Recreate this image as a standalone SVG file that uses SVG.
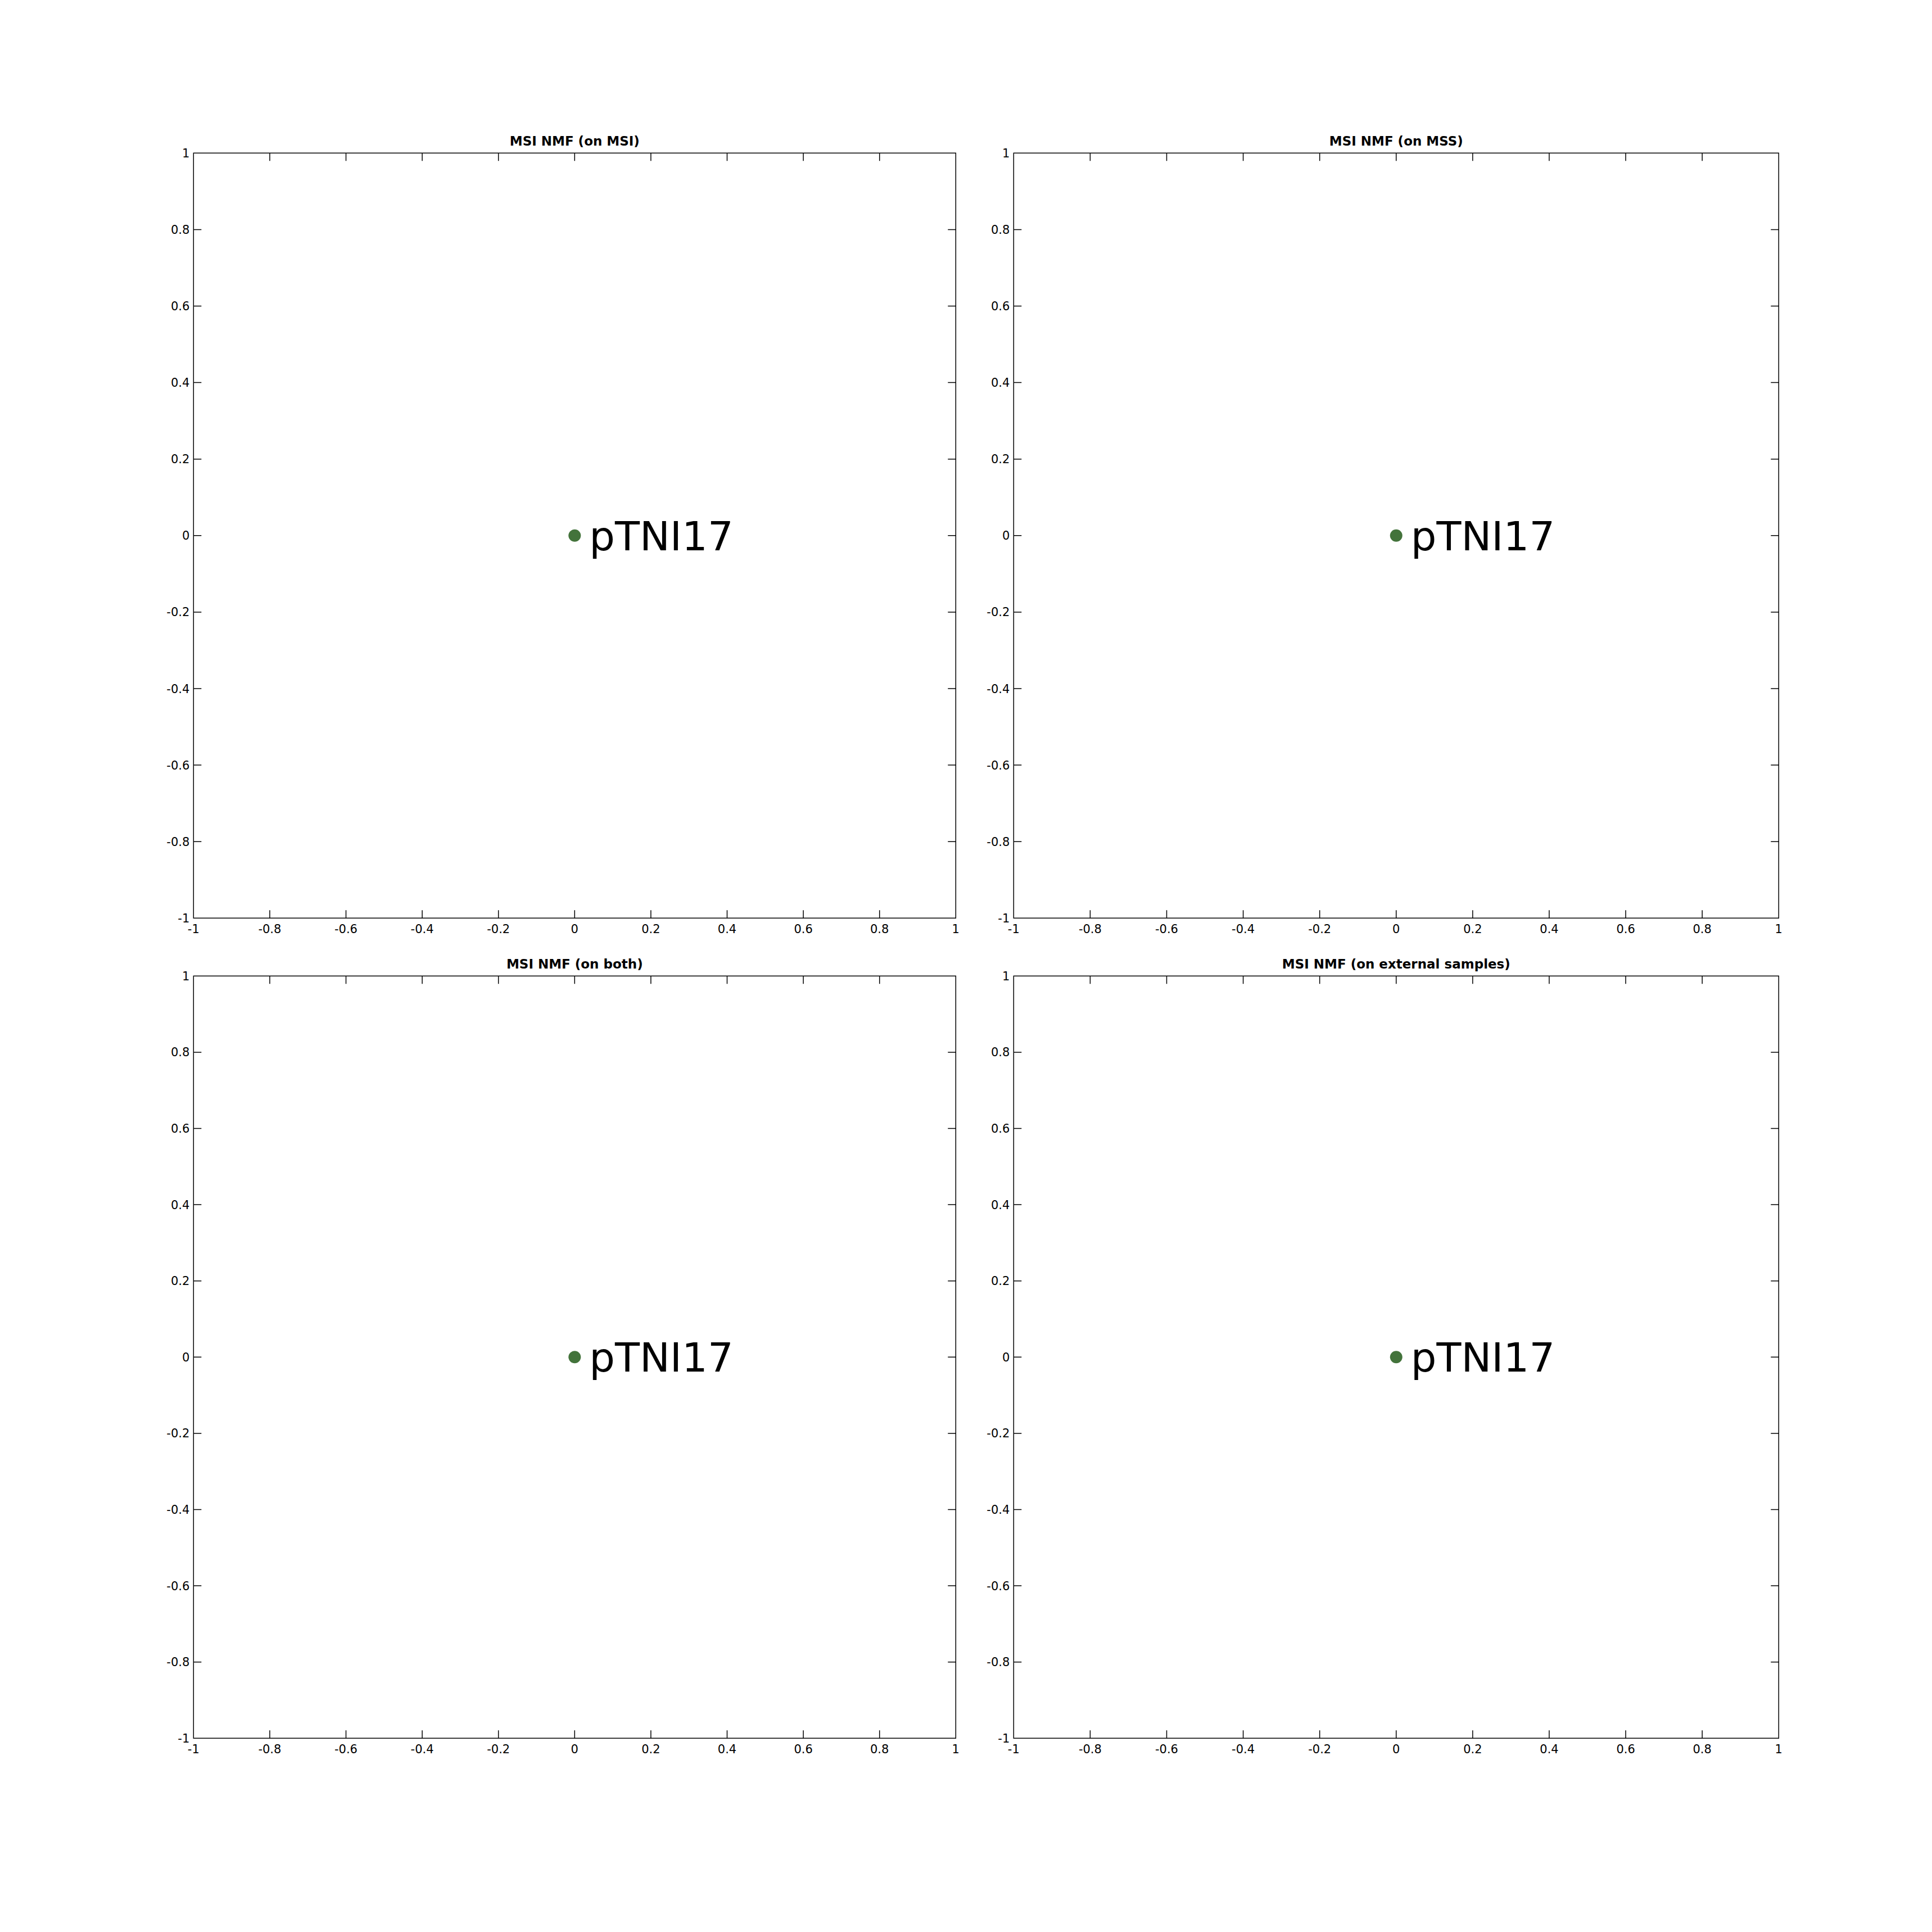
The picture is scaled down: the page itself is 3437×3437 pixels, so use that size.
<svg xmlns="http://www.w3.org/2000/svg" width="3437" height="3437" viewBox="0 0 3437 3437">
<style>
.frame{fill:none;stroke:#000;stroke-width:1.5}
.tick{fill:none;stroke:#000;stroke-width:1.5}
.tk{font-family:"DejaVu Sans","Liberation Sans",sans-serif;font-size:21px;fill:#000}
.ya{text-anchor:end}
.xa{text-anchor:middle}
.title{font-family:"DejaVu Sans","Liberation Sans",sans-serif;font-size:23px;font-weight:bold;fill:#000;text-anchor:middle}
.pt{fill:#43733b}
.lbl{font-family:"DejaVu Sans","Liberation Sans",sans-serif;font-size:72px;fill:#000}
</style>
<rect width="3437" height="3437" fill="#fff"/>

<g id="panel-tl">
<rect class="frame" x="344.3" y="272.3" width="1356" height="1361"/>
<path class="tick" d="M479.9 272.3v14M615.5 272.3v14M751.1 272.3v14M886.7 272.3v14M1022.3 272.3v14M1157.9 272.3v14M1293.5 272.3v14M1429.1 272.3v14M1564.7 272.3v14
M479.9 1633.3v-14M615.5 1633.3v-14M751.1 1633.3v-14M886.7 1633.3v-14M1022.3 1633.3v-14M1157.9 1633.3v-14M1293.5 1633.3v-14M1429.1 1633.3v-14M1564.7 1633.3v-14
M344.3 408.4h14M344.3 544.5h14M344.3 680.6h14M344.3 816.7h14M344.3 952.8h14M344.3 1088.9h14M344.3 1225h14M344.3 1361.1h14M344.3 1497.2h14
M1700.3 408.4h-14M1700.3 544.5h-14M1700.3 680.6h-14M1700.3 816.7h-14M1700.3 952.8h-14M1700.3 1088.9h-14M1700.3 1225h-14M1700.3 1361.1h-14M1700.3 1497.2h-14"/>
<text class="title" x="1022.3" y="258.8">MSI NMF (on MSI)</text>
<g class="tk ya">
<text x="337.3" y="279.8">1</text><text x="337.3" y="415.9">0.8</text><text x="337.3" y="552">0.6</text><text x="337.3" y="688.1">0.4</text><text x="337.3" y="824.2">0.2</text><text x="337.3" y="960.3">0</text><text x="337.3" y="1096.4">-0.2</text><text x="337.3" y="1232.5">-0.4</text><text x="337.3" y="1368.6">-0.6</text><text x="337.3" y="1504.7">-0.8</text><text x="337.3" y="1640.8">-1</text>
</g>
<g class="tk xa">
<text x="344.3" y="1660.3">-1</text><text x="479.9" y="1660.3">-0.8</text><text x="615.5" y="1660.3">-0.6</text><text x="751.1" y="1660.3">-0.4</text><text x="886.7" y="1660.3">-0.2</text><text x="1022.3" y="1660.3">0</text><text x="1157.9" y="1660.3">0.2</text><text x="1293.5" y="1660.3">0.4</text><text x="1429.1" y="1660.3">0.6</text><text x="1564.7" y="1660.3">0.8</text><text x="1700.3" y="1660.3">1</text>
</g>
<circle class="pt" cx="1022.3" cy="952.8" r="11"/>
<text class="lbl" x="1048.3" y="978.8">pTNI17</text>
</g>

<g id="panel-tr">
<rect class="frame" x="1803.3" y="272.3" width="1361" height="1361"/>
<path class="tick" d="M1939.4 272.3v14M2075.5 272.3v14M2211.6 272.3v14M2347.7 272.3v14M2483.8 272.3v14M2619.9 272.3v14M2756 272.3v14M2892.1 272.3v14M3028.2 272.3v14
M1939.4 1633.3v-14M2075.5 1633.3v-14M2211.6 1633.3v-14M2347.7 1633.3v-14M2483.8 1633.3v-14M2619.9 1633.3v-14M2756 1633.3v-14M2892.1 1633.3v-14M3028.2 1633.3v-14
M1803.3 408.4h14M1803.3 544.5h14M1803.3 680.6h14M1803.3 816.7h14M1803.3 952.8h14M1803.3 1088.9h14M1803.3 1225h14M1803.3 1361.1h14M1803.3 1497.2h14
M3164.3 408.4h-14M3164.3 544.5h-14M3164.3 680.6h-14M3164.3 816.7h-14M3164.3 952.8h-14M3164.3 1088.9h-14M3164.3 1225h-14M3164.3 1361.1h-14M3164.3 1497.2h-14"/>
<text class="title" x="2483.8" y="258.8">MSI NMF (on MSS)</text>
<g class="tk ya">
<text x="1796.3" y="279.8">1</text><text x="1796.3" y="415.9">0.8</text><text x="1796.3" y="552">0.6</text><text x="1796.3" y="688.1">0.4</text><text x="1796.3" y="824.2">0.2</text><text x="1796.3" y="960.3">0</text><text x="1796.3" y="1096.4">-0.2</text><text x="1796.3" y="1232.5">-0.4</text><text x="1796.3" y="1368.6">-0.6</text><text x="1796.3" y="1504.7">-0.8</text><text x="1796.3" y="1640.8">-1</text>
</g>
<g class="tk xa">
<text x="1803.3" y="1660.3">-1</text><text x="1939.4" y="1660.3">-0.8</text><text x="2075.5" y="1660.3">-0.6</text><text x="2211.6" y="1660.3">-0.4</text><text x="2347.7" y="1660.3">-0.2</text><text x="2483.8" y="1660.3">0</text><text x="2619.9" y="1660.3">0.2</text><text x="2756" y="1660.3">0.4</text><text x="2892.1" y="1660.3">0.6</text><text x="3028.2" y="1660.3">0.8</text><text x="3164.3" y="1660.3">1</text>
</g>
<circle class="pt" cx="2483.8" cy="952.8" r="11"/>
<text class="lbl" x="2509.8" y="978.8">pTNI17</text>
</g>

<g id="panel-bl">
<rect class="frame" x="344.3" y="1736.3" width="1356" height="1356"/>
<path class="tick" d="M479.9 1736.3v14M615.5 1736.3v14M751.1 1736.3v14M886.7 1736.3v14M1022.3 1736.3v14M1157.9 1736.3v14M1293.5 1736.3v14M1429.1 1736.3v14M1564.7 1736.3v14
M479.9 3092.3v-14M615.5 3092.3v-14M751.1 3092.3v-14M886.7 3092.3v-14M1022.3 3092.3v-14M1157.9 3092.3v-14M1293.5 3092.3v-14M1429.1 3092.3v-14M1564.7 3092.3v-14
M344.3 1871.9h14M344.3 2007.5h14M344.3 2143.1h14M344.3 2278.7h14M344.3 2414.3h14M344.3 2549.9h14M344.3 2685.5h14M344.3 2821.1h14M344.3 2956.7h14
M1700.3 1871.9h-14M1700.3 2007.5h-14M1700.3 2143.1h-14M1700.3 2278.7h-14M1700.3 2414.3h-14M1700.3 2549.9h-14M1700.3 2685.5h-14M1700.3 2821.1h-14M1700.3 2956.7h-14"/>
<text class="title" x="1022.3" y="1722.8">MSI NMF (on both)</text>
<g class="tk ya">
<text x="337.3" y="1743.8">1</text><text x="337.3" y="1879.4">0.8</text><text x="337.3" y="2015">0.6</text><text x="337.3" y="2150.6">0.4</text><text x="337.3" y="2286.2">0.2</text><text x="337.3" y="2421.8">0</text><text x="337.3" y="2557.4">-0.2</text><text x="337.3" y="2693">-0.4</text><text x="337.3" y="2828.6">-0.6</text><text x="337.3" y="2964.2">-0.8</text><text x="337.3" y="3099.8">-1</text>
</g>
<g class="tk xa">
<text x="344.3" y="3119.3">-1</text><text x="479.9" y="3119.3">-0.8</text><text x="615.5" y="3119.3">-0.6</text><text x="751.1" y="3119.3">-0.4</text><text x="886.7" y="3119.3">-0.2</text><text x="1022.3" y="3119.3">0</text><text x="1157.9" y="3119.3">0.2</text><text x="1293.5" y="3119.3">0.4</text><text x="1429.1" y="3119.3">0.6</text><text x="1564.7" y="3119.3">0.8</text><text x="1700.3" y="3119.3">1</text>
</g>
<circle class="pt" cx="1022.3" cy="2414.3" r="11"/>
<text class="lbl" x="1048.3" y="2440.3">pTNI17</text>
</g>

<g id="panel-br">
<rect class="frame" x="1803.3" y="1736.3" width="1361" height="1356"/>
<path class="tick" d="M1939.4 1736.3v14M2075.5 1736.3v14M2211.6 1736.3v14M2347.7 1736.3v14M2483.8 1736.3v14M2619.9 1736.3v14M2756 1736.3v14M2892.1 1736.3v14M3028.2 1736.3v14
M1939.4 3092.3v-14M2075.5 3092.3v-14M2211.6 3092.3v-14M2347.7 3092.3v-14M2483.8 3092.3v-14M2619.9 3092.3v-14M2756 3092.3v-14M2892.1 3092.3v-14M3028.2 3092.3v-14
M1803.3 1871.9h14M1803.3 2007.5h14M1803.3 2143.1h14M1803.3 2278.7h14M1803.3 2414.3h14M1803.3 2549.9h14M1803.3 2685.5h14M1803.3 2821.1h14M1803.3 2956.7h14
M3164.3 1871.9h-14M3164.3 2007.5h-14M3164.3 2143.1h-14M3164.3 2278.7h-14M3164.3 2414.3h-14M3164.3 2549.9h-14M3164.3 2685.5h-14M3164.3 2821.1h-14M3164.3 2956.7h-14"/>
<text class="title" x="2483.8" y="1722.8">MSI NMF (on external samples)</text>
<g class="tk ya">
<text x="1796.3" y="1743.8">1</text><text x="1796.3" y="1879.4">0.8</text><text x="1796.3" y="2015">0.6</text><text x="1796.3" y="2150.6">0.4</text><text x="1796.3" y="2286.2">0.2</text><text x="1796.3" y="2421.8">0</text><text x="1796.3" y="2557.4">-0.2</text><text x="1796.3" y="2693">-0.4</text><text x="1796.3" y="2828.6">-0.6</text><text x="1796.3" y="2964.2">-0.8</text><text x="1796.3" y="3099.8">-1</text>
</g>
<g class="tk xa">
<text x="1803.3" y="3119.3">-1</text><text x="1939.4" y="3119.3">-0.8</text><text x="2075.5" y="3119.3">-0.6</text><text x="2211.6" y="3119.3">-0.4</text><text x="2347.7" y="3119.3">-0.2</text><text x="2483.8" y="3119.3">0</text><text x="2619.9" y="3119.3">0.2</text><text x="2756" y="3119.3">0.4</text><text x="2892.1" y="3119.3">0.6</text><text x="3028.2" y="3119.3">0.8</text><text x="3164.3" y="3119.3">1</text>
</g>
<circle class="pt" cx="2483.8" cy="2414.3" r="11"/>
<text class="lbl" x="2509.8" y="2440.3">pTNI17</text>
</g>

<g id="connectors"></g>
</svg>
